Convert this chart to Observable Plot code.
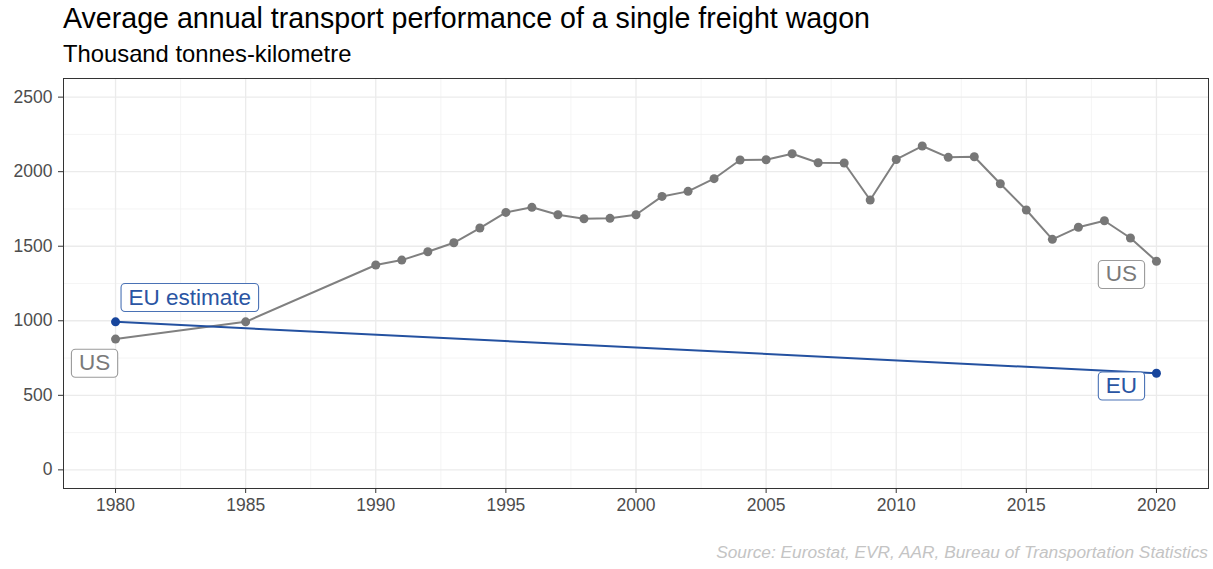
<!DOCTYPE html>
<html>
<head>
<meta charset="utf-8">
<script src="https://cdn.jsdelivr.net/npm/d3@7"></script>
<script src="https://cdn.jsdelivr.net/npm/@observablehq/plot@0.6"></script>
<style>
  html, body { margin: 0; padding: 0; background: #ffffff; }
  body { width: 1213px; height: 569px; overflow: hidden; font-family: "Liberation Sans", Arial, sans-serif; }
  #title { font-size: 28.6px; line-height: 32px; padding-top: 2px; padding-left: 63px; color: #000; box-sizing: border-box; height: 36px; }
  #subtitle { font-size: 23.8px; line-height: 26px; padding-top: 5px; height: 31px; padding-left: 63px; color: #000; box-sizing: border-box; }
  #chart svg { display: block; }
  #caption { font-size: 17.3px; font-style: italic; line-height: 20px; padding-top: 20px; text-align: right; padding-right: 5px; color: #c4c4c4; box-sizing: border-box; }
</style>
</head>
<body>
<div id="title">Average annual transport performance of a single freight wagon</div>
<div id="subtitle">Thousand tonnes-kilometre</div>
<div id="chart"></div>
<div id="caption">Source: Eurostat, EVR, AAR, Bureau of Transportation Statistics</div>
<script>
// ---- data ----
const usYears = [1980, 1985, 1990, 1991, 1992, 1993, 1994, 1995, 1996, 1997, 1998, 1999, 2000,
  2001, 2002, 2003, 2004, 2005, 2006, 2007, 2008, 2009, 2010, 2011, 2012, 2013, 2014, 2015,
  2016, 2017, 2018, 2019, 2020];
const usValues = [877, 993, 1374, 1407, 1463, 1523, 1622, 1727, 1761, 1711, 1684, 1687, 1711,
  1834, 1868, 1953, 2078, 2080, 2120, 2060, 2058, 1810, 2082, 2172, 2096, 2100, 1919, 1743,
  1546, 1627, 1671, 1555, 1399];
const euYears = [1980, 2020];
const euValues = [993, 648];
const xTicks = [1980, 1985, 1990, 1995, 2000, 2005, 2010, 2015, 2020];
const xMinor = [1982.5, 1987.5, 1992.5, 1997.5, 2002.5, 2007.5, 2012.5, 2017.5];
const yTicks = [0, 500, 1000, 1500, 2000, 2500];
const yMinor = [250, 750, 1250, 1750, 2250];
const euStartLabel = "EU estimate";
const euEndLabel = "EU";
const usLabel = "US";

const us = usYears.map((year, i) => ({year, value: usValues[i]}));
const eu = euYears.map((year, i) => ({year, value: euValues[i]}));

const grey = "#808080";
const blue = "#2451a0";
const labelBlue = "#2a55a3";
const labelGrey = "#7a7a7a";
const fontFamily = '"Liberation Sans", Arial, sans-serif';

const labelOpts = {x: "year", y: "value", fontSize: 22.5, fontFamily};

const plot = Plot.plot({
  width: 1213,
  height: 455,
  marginTop: 11,
  marginBottom: 34,
  marginLeft: 63,
  marginRight: 5,
  x: {domain: [1978, 2022]},
  y: {domain: [-125, 2625]},
  style: {fontFamily, background: "#ffffff"},
  marks: [
    Plot.ruleY(yMinor, {stroke: "#f0f0f0", strokeWidth: 0.7}),
    Plot.ruleX(xMinor, {stroke: "#f0f0f0", strokeWidth: 0.7}),
    Plot.ruleY(yTicks, {stroke: "#ebebeb", strokeWidth: 1.3}),
    Plot.ruleX(xTicks, {stroke: "#ebebeb", strokeWidth: 1.3}),
    Plot.frame({stroke: "#333333", strokeWidth: 1}),
    Plot.axisX({ticks: xTicks, tickFormat: d => String(d), tickSize: 5, tickPadding: 5,
      fontSize: 17.5, fill: "#4d4d4d", stroke: "#333333", label: null}),
    Plot.axisY({ticks: yTicks, tickFormat: d => String(d), tickSize: 5, tickPadding: 6,
      fontSize: 17.5, fill: "#4d4d4d", stroke: "#333333", label: null}),
    Plot.line(us, {x: "year", y: "value", stroke: grey, strokeWidth: 2}),
    Plot.dot(us, {x: "year", y: "value", r: 4.5, fill: "#777777", stroke: "none"}),
    Plot.line(eu, {x: "year", y: "value", stroke: blue, strokeWidth: 2}),
    Plot.dot(eu, {x: "year", y: "value", r: 4.5, fill: "#17459c", stroke: "none"}),
    Plot.text(eu.slice(0, 1), {...labelOpts, text: () => euStartLabel, textAnchor: "start",
      dx: 13, dy: -24.5, fill: labelBlue}),
    Plot.text(eu.slice(-1), {...labelOpts, text: () => euEndLabel, textAnchor: "middle",
      dx: -35, dy: 12.5, fill: labelBlue}),
    Plot.text(us.slice(0, 1), {...labelOpts, text: () => usLabel, textAnchor: "middle",
      dx: -21, dy: 24, fill: labelGrey}),
    Plot.text(us.slice(-1), {...labelOpts, text: () => usLabel, textAnchor: "middle",
      dx: -35, dy: 13, fill: labelGrey})
  ]
});

document.getElementById("chart").appendChild(plot);

// add rounded boxes behind the label texts
const boxStroke = {[euStartLabel]: "#4a72b5", [euEndLabel]: "#4a72b5", [usLabel]: "#9a9a9a"};
Array.from(plot.querySelectorAll("text")).forEach(t => {
  const content = t.textContent.trim();
  if (!(content in boxStroke)) return;
  const b = t.getBBox();
  const rect = document.createElementNS("http://www.w3.org/2000/svg", "rect");
  const padX = 7.5;
  const cy = b.y + b.height / 2;
  const h = 28;
  rect.setAttribute("x", b.x - padX);
  rect.setAttribute("y", cy - h / 2 + 0.5);
  rect.setAttribute("width", b.width + 2 * padX);
  rect.setAttribute("height", h);
  rect.setAttribute("rx", 4);
  rect.setAttribute("fill", "#ffffff");
  rect.setAttribute("stroke", boxStroke[content]);
  rect.setAttribute("stroke-width", 1.1);
  if (t.getAttribute("transform")) rect.setAttribute("transform", t.getAttribute("transform"));
  t.parentNode.insertBefore(rect, t);
});
</script>
</body>
</html>
